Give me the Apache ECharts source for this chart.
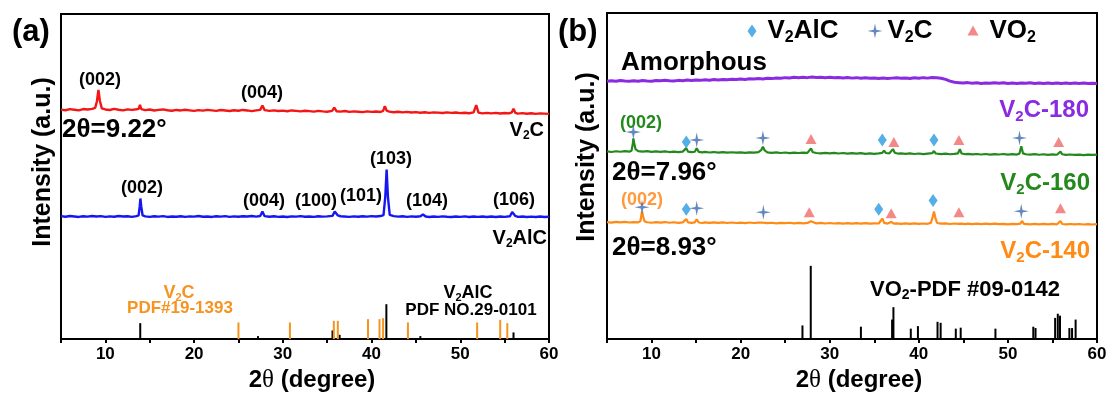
<!DOCTYPE html>
<html>
<head>
<meta charset="utf-8">
<script src="https://cdn.jsdelivr.net/npm/echarts@6/dist/echarts.min.js"></script>
<style>
  html, body { margin: 0; padding: 0; background: #fff; }
  #chart { width: 1113px; height: 398px; }
</style>
</head>
<body>
<div id="chart"></div>
<script>
// ---------- XRD patterns, panel (a): [2θ (deg), intensity (a.u.)] ----------
const v2cEtched = [
  [5.0,14.1],[5.5,13.5],[6.0,14.6],[6.5,14.0],[7.0,13.4],[7.5,14.7],[8.0,14.2],[8.5,14.9],[8.85,15.8],[9.05,22.5],[9.22,34.0],[9.38,23.0],[9.6,15.4],
  [10.0,14.3],[10.5,13.7],[11.0,14.8],[11.5,14.0],[12.0,13.3],[12.5,14.4],[13.0,13.8],[13.5,14.5],[13.75,14.9],[13.9,19.0],[14.05,14.6],[14.5,13.6],
  [15.0,14.2],[15.5,13.2],[16.0,13.9],[16.5,14.3],[17.0,13.5],[17.5,13.0],[18.0,13.8],[18.5,13.3],[19.0,14.0],[19.5,13.4],[20.0,12.8],[20.5,13.6],
  [21.0,13.1],[21.5,13.9],[22.0,13.4],[22.5,12.9],[23.0,13.7],[23.5,13.2],[24.0,12.7],[24.5,13.5],[25.0,13.0],[25.5,13.8],[26.0,13.3],[26.5,12.6],
  [27.0,13.4],[27.45,13.9],[27.7,18.3],[27.95,13.6],[28.5,12.9],[29.0,13.4],[29.5,12.7],[30.0,13.1],[30.5,12.5],[31.0,13.3],[31.5,12.8],[32.0,12.3],
  [32.5,13.0],[33.0,12.6],[33.5,12.1],[34.0,12.9],[34.5,12.4],[35.0,12.0],[35.55,12.8],[35.8,16.2],[36.05,12.5],[36.5,12.1],[37.0,12.7],[37.5,11.9],
  [38.0,12.4],[38.5,12.0],[39.0,11.6],[39.5,12.3],[40.0,11.8],[40.5,12.2],[41.0,11.7],[41.3,12.9],[41.5,17.6],[41.7,13.1],[42.0,12.1],[42.5,11.5],
  [43.0,12.0],[43.5,11.3],[44.0,11.8],[44.5,11.2],[45.0,11.6],[45.5,11.0],[46.0,11.5],[46.5,10.9],[47.0,11.4],[47.5,11.1],[48.0,10.7],[48.5,11.3],
  [49.0,10.8],[49.5,11.2],[50.0,10.6],[50.5,11.0],[51.0,10.5],[51.5,11.3],[51.8,18.6],[52.05,11.1],[52.5,10.4],[53.0,10.9],[53.5,10.3],[54.0,10.8],
  [54.5,10.2],[55.0,10.7],[55.5,10.3],[55.8,11.3],[56.0,15.0],[56.2,10.9],[56.5,10.1],[57.0,10.6],[57.5,10.0],[58.0,10.5],[58.5,9.9],[59.0,10.4],
  [59.5,10.1],[60.0,9.8]
];
const v2alc = [
  [5.0,10.3],[5.5,9.7],[6.0,10.4],[6.5,10.0],[7.0,9.5],[7.5,10.2],[8.0,9.8],[8.5,10.5],[9.0,9.9],[9.5,10.3],[10.0,9.6],[10.5,10.1],[11.0,9.7],
  [11.5,10.4],[12.0,9.9],[12.5,10.2],[13.0,9.6],[13.5,10.3],[13.75,11.0],[13.87,20.0],[13.95,28.0],[14.05,19.5],[14.2,11.0],[14.5,10.1],[15.0,9.6],
  [15.5,10.2],[16.0,9.8],[16.5,10.3],[17.0,9.5],[17.5,10.0],[18.0,9.7],[18.5,10.2],[19.0,9.6],[19.5,10.1],[20.0,9.8],[20.5,10.4],[21.0,9.7],
  [21.5,10.0],[22.0,9.5],[22.5,10.2],[23.0,9.8],[23.5,10.3],[24.0,9.6],[24.5,10.1],[25.0,9.7],[25.5,10.2],[26.0,9.9],[26.5,10.4],[27.0,9.8],
  [27.45,10.4],[27.7,15.0],[27.95,10.3],[28.5,9.7],[29.0,10.2],[29.5,9.6],[30.0,10.0],[30.5,9.5],[31.0,10.1],[31.5,9.8],[32.0,10.3],[32.5,9.7],
  [33.0,10.0],[33.5,9.6],[34.0,10.2],[34.5,9.8],[35.0,10.1],[35.6,10.6],[35.85,15.0],[36.0,17.0],[36.2,11.0],[36.5,10.2],[36.7,12.0],[36.9,10.0],
  [37.5,9.6],[38.0,10.1],[38.5,9.7],[39.0,10.2],[39.5,9.8],[40.0,10.3],[40.5,9.9],[41.0,10.4],[41.35,11.4],[41.55,30.0],[41.7,57.0],[41.85,29.0],
  [42.05,11.6],[42.5,10.3],[43.0,9.8],[43.5,10.2],[44.0,9.6],[44.5,10.1],[45.0,9.7],[45.5,10.2],[45.8,12.0],[46.1,9.9],[46.5,9.5],[47.0,10.0],
  [47.5,9.6],[48.0,10.1],[48.5,9.7],[49.0,9.4],[49.5,10.0],[50.0,9.6],[50.5,10.1],[51.0,9.5],[51.5,9.9],[52.0,9.6],[52.5,10.0],[53.0,9.4],
  [53.5,9.9],[54.0,9.5],[54.5,10.0],[55.0,9.6],[55.6,10.2],[55.85,14.5],[56.0,16.0],[56.2,10.5],[56.5,9.6],[57.0,9.9],[57.5,9.4],[58.0,9.8],
  [58.5,9.5],[59.0,9.9],[59.5,9.4],[60.0,9.7]
];
// reference patterns (stick heights)
const refV2AlC = [[13.93,16],[27.2,3],[35.6,8.7],[36.4,4.3],[41.67,35],[45.5,3],[56.0,6.7]];
const refV2C = [[25.0,16.7],[30.8,16.7],[35.75,18.3],[36.2,18.3],[39.6,20],[40.9,20],[41.3,21],[44.1,16.7],[51.9,16.7],[54.5,19.3],[55.3,16]];

// ---------- XRD patterns, panel (b) ----------
const v2c180 = [
  [5.0,11.0],[5.5,11.6],[6.0,11.1],[6.5,11.8],[7.0,11.3],[7.5,11.0],[8.0,11.7],[8.5,11.2],[9.0,11.9],[9.5,11.4],[10.0,11.1],[10.5,11.8],[11.0,11.5],
  [11.5,12.1],[12.0,11.6],[12.5,11.3],[13.0,12.0],[13.5,11.7],[14.0,12.3],[14.5,11.8],[15.0,12.4],[15.5,12.0],[16.0,12.6],[16.5,12.2],[17.0,12.8],
  [17.5,12.4],[18.0,13.0],[18.5,12.6],[19.0,13.2],[19.5,12.8],[20.0,13.4],[20.5,13.0],[21.0,13.6],[21.5,13.3],[22.0,13.9],[22.5,13.5],[23.0,14.2],
  [23.5,13.8],[24.0,14.5],[24.5,14.1],[25.0,14.8],[25.5,14.4],[26.0,15.1],[26.5,14.6],[27.0,15.2],[27.5,14.8],[28.0,15.4],[28.5,14.9],[29.0,15.3],
  [29.5,14.7],[30.0,15.1],[30.5,14.6],[31.0,15.0],[31.5,14.4],[32.0,14.9],[32.5,14.3],[33.0,14.8],[33.5,14.2],[34.0,14.7],[34.5,14.1],[35.0,14.5],
  [35.5,14.0],[36.0,14.4],[36.5,13.9],[37.0,14.3],[37.5,14.6],[38.0,14.1],[38.5,14.5],[39.0,14.0],[39.5,14.6],[40.0,14.2],[40.5,14.8],[41.0,14.3],
  [41.5,15.0],[42.0,14.6],[42.5,14.1],[43.0,13.0],[43.5,11.2],[44.0,10.0],[44.5,9.6],[45.0,9.2],[45.5,9.7],[46.0,9.1],[46.5,9.5],[47.0,8.9],
  [47.5,9.4],[48.0,9.0],[48.5,9.6],[49.0,9.1],[49.5,9.5],[50.0,8.9],[50.5,9.3],[51.0,8.8],[51.5,9.4],[52.0,9.0],[52.5,9.5],[53.0,8.9],[53.5,9.3],
  [54.0,8.8],[54.5,9.2],[55.0,8.9],[55.5,9.4],[56.0,8.8],[56.5,9.3],[57.0,8.7],[57.5,9.2],[58.0,8.8],[58.5,9.3],[59.0,8.7],[59.5,9.1],[60.0,8.8]
];
const v2c160 = [
  [5.0,12.2],[5.5,11.6],[6.0,12.4],[6.5,11.9],[7.0,12.5],[7.5,12.0],[7.75,13.0],[7.9,20.0],[7.96,25.5],[8.05,21.0],[8.2,14.5],[8.5,12.6],[9.0,12.0],
  [9.5,12.5],[10.0,11.8],[10.5,12.3],[11.0,11.7],[11.5,12.2],[12.0,11.6],[12.5,12.1],[13.0,11.5],[13.5,12.0],[13.7,12.3],[13.9,15.6],[14.1,12.0],
  [14.5,11.5],[14.85,11.9],[15.07,15.4],[15.3,11.8],[15.7,11.2],[16.0,11.7],[16.5,11.1],[17.0,11.6],[17.5,11.0],[18.0,11.5],[18.5,11.0],[19.0,11.4],
  [19.5,10.9],[20.0,11.3],[20.5,10.8],[21.0,11.3],[21.5,10.9],[22.0,11.5],[22.3,13.5],[22.5,17.0],[22.7,13.2],[23.0,11.3],[23.5,10.7],[24.0,11.2],
  [24.5,10.6],[25.0,11.1],[25.5,10.5],[26.0,11.0],[26.5,10.6],[27.0,11.0],[27.5,10.7],[27.7,11.8],[27.9,15.3],[28.1,11.4],[28.5,10.6],[29.0,10.2],
  [29.5,10.8],[30.0,10.3],[30.5,10.7],[31.0,10.1],[31.5,10.6],[32.0,10.0],[32.5,10.5],[33.0,9.9],[33.5,10.4],[34.0,9.8],[34.5,10.3],[35.0,9.8],
  [35.5,10.2],[35.9,10.8],[36.1,13.0],[36.3,10.6],[36.7,10.3],[36.9,11.2],[37.1,14.6],[37.3,10.9],[37.7,9.9],[38.0,10.3],[38.5,9.7],[39.0,10.2],
  [39.5,9.6],[40.0,10.1],[40.5,9.5],[41.0,10.0],[41.5,10.4],[41.7,12.6],[41.9,10.1],[42.5,9.4],[43.0,9.9],[43.5,9.3],[44.0,9.8],[44.4,10.3],
  [44.6,14.5],[44.8,10.1],[45.2,9.3],[45.5,9.7],[46.0,9.2],[46.5,9.6],[47.0,9.1],[47.5,9.6],[48.0,9.0],[48.5,9.5],[49.0,9.1],[49.5,9.6],[50.0,9.0],
  [50.5,9.4],[51.0,9.0],[51.3,10.0],[51.5,17.5],[51.7,10.2],[52.0,9.3],[52.5,8.9],[53.0,9.4],[53.5,8.8],[54.0,9.3],[54.5,8.7],[55.0,9.2],[55.5,8.8],
  [55.7,9.6],[55.9,12.0],[56.1,9.3],[56.5,8.7],[57.0,9.1],[57.5,8.6],[58.0,9.0],[58.5,8.5],[59.0,9.0],[59.5,8.6],[60.0,8.9]
];
const v2c140 = [
  [5.0,11.9],[5.5,11.3],[6.0,12.1],[6.5,11.5],[7.0,12.0],[7.5,11.4],[8.0,11.9],[8.5,11.6],[8.75,13.0],[8.85,18.5],[8.93,22.8],[9.05,18.0],[9.2,12.8],
  [9.5,11.7],[10.0,11.2],[10.5,11.8],[11.0,11.3],[11.5,11.9],[12.0,11.2],[12.5,11.7],[13.0,11.1],[13.5,11.6],[13.7,11.9],[13.9,14.9],[14.1,11.5],
  [14.5,11.0],[14.85,11.5],[15.07,14.8],[15.3,11.4],[15.7,10.9],[16.0,11.5],[16.5,11.0],[17.0,11.6],[17.5,11.1],[18.0,11.5],[18.5,10.9],[19.0,11.4],
  [19.5,10.9],[20.0,11.3],[20.5,10.8],[21.0,11.4],[21.5,10.9],[22.0,11.2],[22.35,11.4],[22.55,13.2],[22.75,11.1],[23.0,10.7],[23.5,11.2],[24.0,10.6],
  [24.5,11.1],[25.0,10.7],[25.5,11.2],[26.0,10.6],[26.5,11.0],[27.0,10.5],[27.5,11.0],[27.7,11.2],[27.9,12.8],[28.1,11.0],[28.5,10.5],[29.0,11.0],
  [29.5,10.4],[30.0,10.9],[30.5,10.4],[31.0,10.8],[31.5,10.3],[32.0,10.8],[32.5,10.2],[33.0,10.7],[33.5,10.3],[34.0,10.8],[34.5,10.2],[35.0,10.6],
  [35.5,10.4],[35.7,11.4],[35.9,15.5],[36.1,11.0],[36.5,10.3],[36.9,12.0],[37.2,10.2],[37.5,10.6],[38.0,10.1],[38.5,10.6],[39.0,10.0],[39.5,10.5],
  [40.0,10.0],[40.5,10.4],[41.0,10.1],[41.35,11.0],[41.55,17.0],[41.7,22.8],[41.85,16.5],[42.05,10.9],[42.5,10.2],[43.0,10.5],[43.5,9.9],[44.0,10.4],
  [44.4,10.1],[44.6,12.0],[44.8,10.2],[45.2,9.8],[45.5,10.3],[46.0,9.8],[46.5,10.2],[47.0,9.7],[47.5,10.3],[48.0,9.8],[48.5,10.2],[49.0,9.7],
  [49.5,10.1],[50.0,9.6],[50.5,10.1],[51.0,9.7],[51.4,10.2],[51.6,13.0],[51.8,10.0],[52.5,9.6],[53.0,10.1],[53.5,9.6],[54.0,10.0],[54.5,9.5],
  [55.0,10.0],[55.5,9.6],[55.7,10.2],[55.9,12.8],[56.1,9.9],[56.5,9.5],[57.0,9.9],[57.5,9.5],[58.0,9.9],[58.5,9.4],[59.0,9.8],[59.5,9.4],[60.0,9.7]
];
const refVO2 = [
  [26.94,14],[27.87,75],[33.5,12.7],[37.0,20],[37.15,32.7],[39.1,10.7],[39.9,13.3],[42.1,17.7],[42.45,16.7],[44.15,10.7],[44.7,11.7],
  [48.6,10.7],[52.85,12.7],[53.1,11.3],[55.3,21.7],[55.6,26],[55.85,24],[56.9,11.3],[57.2,11.3],[57.6,20]
];
// phase markers: [2θ, marker height in the stacked intensity scale]
const markV2AlC = [[13.9,202],[35.9,204],[41.7,204],[13.9,133],[35.5,133],[41.6,142]];
const markV2C = [[7.96,212],[15.07,204],[22.5,206],[51.3,206],[8.93,135],[15.07,134],[22.55,130],[51.5,131]];
const markVO2 = [[27.9,205],[37.2,202],[44.5,204],[55.7,202],[27.7,130],[36.9,129],[44.5,130],[55.9,134]];

// stacking offsets of the patterns
const offsetA = { v2c: 216, v2alc: 113 };
const offsetB = { c180: 253, c160: 180, c140: 108 };
const xTicks = [10, 20, 30, 40, 50, 60];

// ---------- chart ----------
const FONT = '"Liberation Sans", Arial, Helvetica, sans-serif';
const STAR = 'path://M0,-10 L1.7,-1.7 L10,0 L1.7,1.7 L0,10 L-1.7,1.7 L-10,0 L-1.7,-1.7 Z';
const shift = (arr, off) => arr.map(([t, v]) => [t, v + off]);

// rich styles for formulas with a subscript digit (V₂C, VO₂ ...)
function subRich(size, color) {
  const s = Math.round(size * 0.62);
  return {
    g: { width: 6 },
    v: { fontSize: size, fontWeight: 'bold', fontFamily: FONT, color, fill: color, lineHeight: Math.round(size * 1.15) },
    s: { fontSize: s, fontWeight: 'bold', fontFamily: FONT, color, fill: color, verticalAlign: 'bottom', lineHeight: s }
  };
}
const txt = (x, y, text, size, color, align) => ({
  type: 'text', x, y, silent: true,
  style: { text, font: `bold ${size}px ${FONT}`, fill: color, align, verticalAlign: 'middle' }
});
const rtxt = (x, y, text, size, color, align) => ({
  type: 'text', x, y, silent: true,
  style: { text, fill: color, rich: subRich(size, color), align, verticalAlign: 'middle' }
});

function xAxisFor(gridIndex, gap) {
  return {
    type: 'value', gridIndex, min: 5, max: 60, interval: 5,
    axisLine: { lineStyle: { color: '#000', width: 2 } },
    axisTick: { length: 4, lineStyle: { color: '#000', width: 2 } },
    splitLine: { show: false },
    axisLabel: {
      formatter: v => (xTicks.includes(v) ? String(v) : ''),
      color: '#000', fontSize: 17, fontWeight: 'bold', fontFamily: FONT, margin: 7
    },
    name: '{n|2}{t|θ}{n| (degree)}', nameLocation: 'middle', nameGap: gap,
    nameTextStyle: {
      padding: [0, 0, 0, 14],
      rich: {
        n: { fontSize: 24, fontWeight: 'bold', fontFamily: FONT, color: '#000' },
        t: { fontSize: 25, fontFamily: '"Liberation Serif", serif', color: '#000' }
      }
    }
  };
}
function yAxisFor(gridIndex, max) {
  return {
    type: 'value', gridIndex, min: 0, max,
    axisLine: { show: false }, axisTick: { show: false },
    axisLabel: { show: false }, splitLine: { show: false }
  };
}
const line = (name, data, color, width, axis) => ({
  name, type: 'line', data, xAxisIndex: axis, yAxisIndex: axis,
  symbol: 'none', silent: true, z: 3,
  lineStyle: { color, width }
});
const sticks = (name, data, color, axis) => ({
  name, type: 'bar', data, xAxisIndex: axis, yAxisIndex: axis,
  barWidth: 2, barGap: '-100%', silent: true, z: 2,
  itemStyle: { color }
});
const marks = (name, data, symbol, size, color) => ({
  name, type: 'scatter', data, xAxisIndex: 1, yAxisIndex: 1,
  symbol, symbolSize: size, silent: true, z: 5,
  itemStyle: { color }
});
function legendItem(name, icon, left, top, w, h, label) {
  return {
    left, top, padding: 0, selectedMode: false,
    itemWidth: w, itemHeight: h,
    data: [{ name, icon }],
    formatter: () => label,
    textStyle: { rich: subRich(26, '#000') }
  };
}

const chart = echarts.init(document.getElementById('chart'), null, { renderer: 'canvas' });
chart.setOption({
  animation: false,
  backgroundColor: '#fff',
  textStyle: { fontFamily: FONT },
  grid: [
    { left: 61, top: 14, width: 488, height: 326, show: true, borderColor: '#000', borderWidth: 2 },
    { left: 607, top: 13, width: 490, height: 334, show: true, borderColor: '#000', borderWidth: 2 }
  ],
  xAxis: [xAxisFor(0, 26), xAxisFor(1, 24)],
  yAxis: [yAxisFor(0, 326), yAxisFor(1, 334)],
  legend: [
    legendItem('V2AlC', 'diamond', 747.5, 18, 9, 13, '{g|}{v|V}{s|2}{v|AlC}'),
    legendItem('V2C', STAR, 867.5, 18, 15, 15, '{v|V}{s|2}{v|C}'),
    legendItem('VO2', 'triangle', 967.5, 17.5, 11, 10, '{g|}{v|VO}{s|2}')
  ],
  series: [
    line('V2C etched', shift(v2cEtched, offsetA.v2c), '#f41515', 2.4, 0),
    line('V2AlC pattern', shift(v2alc, offsetA.v2alc), '#1616f2', 2.4, 0),
    sticks('V2AlC PDF', refV2AlC, '#000', 0),
    sticks('V2C PDF', refV2C, '#f7931e', 0),
    line('V2C-180', shift(v2c180, offsetB.c180), '#8a2be2', 3, 1),
    line('V2C-160', shift(v2c160, offsetB.c160), '#24891d', 2.2, 1),
    line('V2C-140', shift(v2c140, offsetB.c140), '#ff8a14', 2.2, 1),
    sticks('VO2 PDF', refVO2, '#000', 1),
    marks('V2AlC', markV2AlC, 'diamond', [9, 13], '#2a9be0'),
    marks('V2C', markV2C, STAR, [15, 15], '#3f69b0'),
    marks('VO2', markVO2, 'triangle', [11, 10], '#f06a6a')
  ],
  graphic: [
    // panel (a)
    txt(12, 32, '(a)', 31, '#000', 'left'),
    txt(100, 80, '(002)', 18, '#000', 'center'),
    txt(262, 93, '(004)', 18, '#000', 'center'),
    txt(62, 130, '2θ=9.22°', 26, '#000', 'left'),
    rtxt(544, 130, '{v|V}{s|2}{v|C}', 20, '#000', 'right'),
    txt(142, 188, '(002)', 18, '#000', 'center'),
    txt(264, 201, '(004)', 18, '#000', 'center'),
    txt(316, 201, '(100)', 18, '#000', 'center'),
    txt(361, 196, '(101)', 18, '#000', 'center'),
    txt(391, 159, '(103)', 18, '#000', 'center'),
    txt(427, 201, '(104)', 18, '#000', 'center'),
    txt(514, 200, '(106)', 18, '#000', 'center'),
    rtxt(547, 238, '{v|V}{s|2}{v|AlC}', 20, '#000', 'right'),
    rtxt(179, 293, '{v|V}{s|2}{v|C}', 18, '#f7931e', 'center'),
    txt(180, 308, 'PDF#19-1393', 17, '#f7931e', 'center'),
    rtxt(468, 293, '{v|V}{s|2}{v|AlC}', 18, '#000', 'center'),
    txt(471, 310, 'PDF NO.29-0101', 17, '#000', 'center'),
    {
      type: 'text', x: 43, y: 162, rotation: Math.PI / 2, silent: true,
      style: { text: 'Intensity (a.u.)', font: `bold 25px ${FONT}`, fill: '#000', align: 'center', verticalAlign: 'middle' }
    },
    // panel (b)
    txt(558, 32, '(b)', 31, '#000', 'left'),
    txt(621, 63, 'Amorphous', 26, '#000', 'left'),
    rtxt(1089, 110, '{v|V}{s|2}{v|C-180}', 24, '#8a2be2', 'right'),
    txt(641, 123, '(002)', 18, '#24891d', 'center'),
    txt(612, 173, '2θ=7.96°', 26, '#000', 'left'),
    rtxt(1090, 183, '{v|V}{s|2}{v|C-160}', 24, '#24891d', 'right'),
    txt(642, 200, '(002)', 18, '#ff9a3c', 'center'),
    txt(612, 248, '2θ=8.93°', 26, '#000', 'left'),
    rtxt(1090, 251, '{v|V}{s|2}{v|C-140}', 24, '#ff8a14', 'right'),
    rtxt(965, 290, '{v|VO}{s|2}{v|-PDF #09-0142}', 22, '#000', 'center'),
    {
      type: 'text', x: 587, y: 157, rotation: Math.PI / 2, silent: true,
      style: { text: 'Intensity (a.u.)', font: `bold 25px ${FONT}`, fill: '#000', align: 'center', verticalAlign: 'middle' }
    }
  ]
});
</script>
</body>
</html>
